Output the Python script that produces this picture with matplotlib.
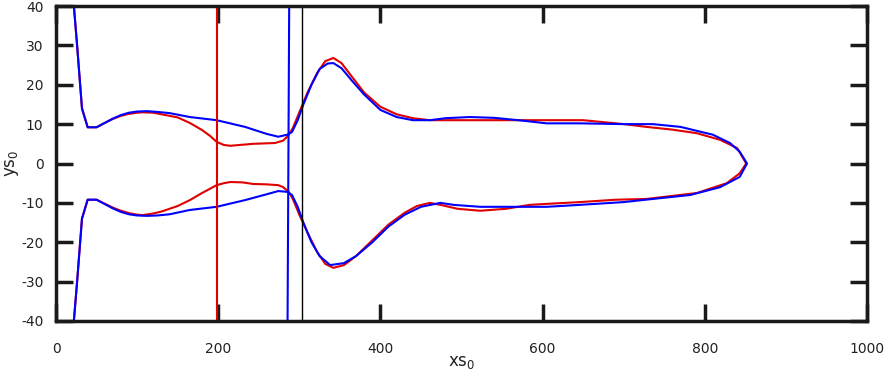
import matplotlib
matplotlib.use('Agg')
import matplotlib.pyplot as plt
import numpy as np

plt.rcParams['axes.unicode_minus'] = False

# contour: upper branch out to the tip, lower branch back
red_x = [22, 26, 32, 39, 50, 60, 70, 80, 90, 100, 107, 120, 130, 150, 165, 180, 190, 198, 207,
         215, 243, 270, 280, 286, 292, 300, 310, 322, 332, 342, 352, 365, 380, 400, 420, 440,
         461, 500, 550, 600, 650, 700, 728, 760, 790, 819, 840, 851,
         843, 827, 790, 728, 690, 646, 610, 584, 555, 523, 495, 474, 461, 445, 430, 410, 390,
         370, 355, 342, 332, 322, 310, 300, 292, 287, 280, 274, 260, 243, 230, 215, 207, 198,
         190, 180, 165, 150, 130, 120, 107, 100, 90, 80, 70, 60, 50, 39, 32, 26, 22]
red_y = [40, 30, 14, 9.2, 9.2, 10.3, 11.3, 12.1, 12.6, 12.9, 13, 12.9, 12.5, 11.7, 10.3, 8.5,
         7, 5.5, 4.7, 4.5, 5, 5.2, 5.8, 7, 9, 13, 18, 23, 26, 26.8, 25.5, 22, 18, 14.4, 12.5,
         11.5, 11, 11, 11, 11, 11, 10, 9.3, 8.6, 7.7, 6, 3.9, 0,
         -2.5, -5, -7.5, -9, -9.2, -9.8, -10.2, -10.5, -11.5, -12, -11.5, -10.5, -10, -10.8,
         -12.5, -15.5, -19.5, -23.5, -25.8, -26.5, -25.5, -22.5, -17.5, -13, -9, -7.2, -6,
         -5.5, -5.3, -5.2, -4.8, -4.7, -5, -5.5, -6.4, -7.5, -9.3, -10.8, -12.2, -12.7, -13.1,
         -13, -12.6, -12, -11.2, -10.2, -9.2, -9.2, -14, -30, -40]

blue_x = [22, 26, 32, 39, 50, 60, 70, 80, 90, 100, 112, 125, 140, 165, 198, 233, 260, 274, 285,
          291, 298, 305, 315, 325, 335, 342, 352, 365, 380, 400, 420, 440, 461, 480, 510, 540,
          570, 605, 646, 700, 736, 770, 810, 831, 843, 852,
          843, 819, 782, 736, 700, 646, 605, 560, 523, 490, 474, 450, 430, 410, 390, 370, 355,
          338, 325, 315, 305, 298, 291, 285, 274, 260, 233, 198, 165, 140, 125, 112, 100, 90,
          80, 70, 60, 50, 39, 32, 26, 22]
blue_y = [40, 30, 14, 9.2, 9.2, 10.3, 11.4, 12.3, 12.9, 13.2, 13.3, 13.1, 12.8, 11.8, 11, 9.3,
          7.5, 6.8, 7.3, 8, 11, 15, 20, 24, 25.4, 25.5, 24.2, 21, 17.5, 13.6, 11.8, 11, 11,
          11.5, 11.8, 11.6, 11, 10.2, 10.2, 10, 10, 9.3, 7.3, 5.2, 3, 0,
          -3.4, -6, -8, -9, -9.8, -10.5, -11, -11, -11, -10.5, -10, -11, -13, -16, -20, -23.5,
          -25.3, -25.8, -23.5, -20, -15, -11, -8, -7.2, -7, -7.8, -9.3, -11, -11.8, -12.9,
          -13.2, -13.3, -13.2, -12.9, -12.3, -11.4, -10.3, -9.2, -9.2, -14, -30, -40]

red_vline = 199
blue_vline = [287.5, 285.5]
black_vline = 303

fig = plt.figure(figsize=(8.85, 3.75), dpi=100)
ax = fig.add_axes([0.0633, 0.144, 0.9164, 0.840])

ax.plot(red_x, red_y, color='#e00000', lw=1.5)
ax.plot(blue_x, blue_y, color='#0000ff', lw=1.5)
ax.axvline(red_vline, color='#e00000', lw=1.5)
ax.plot(blue_vline, [40, -40], color='#0000ff', lw=1.5)
ax.axvline(black_vline, color='black', lw=1.0)

ax.set_xlim(0, 1000)
ax.set_ylim(-40, 40)
ax.set_xticks(np.arange(0, 1001, 200))
ax.set_yticks(np.arange(-40, 41, 10))
ax.tick_params(direction='in', length=12, width=2.5, color='#1a1a1a', labelsize=10,
               top=True, right=True, labelcolor='#222222')
ax.tick_params(axis='x', pad=15)
ax.tick_params(axis='y', pad=9)
for s in ax.spines.values():
    s.set_linewidth(2.5)
    s.set_color('#1a1a1a')

ax.set_xlabel('xs$_0$', fontsize=12, labelpad=-2, color='#222222')
ax.set_ylabel('ys$_0$', fontsize=12, labelpad=0, color='#222222')

fig.savefig('out.png', dpi=100)
